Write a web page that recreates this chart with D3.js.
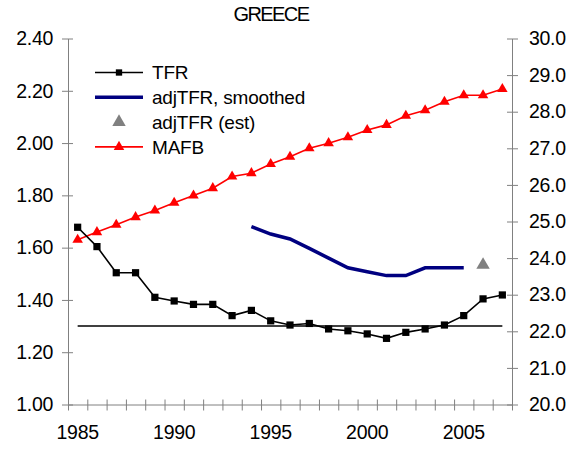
<!DOCTYPE html>
<html>
<head>
<meta charset="utf-8">
<script src="https://cdn.jsdelivr.net/npm/d3@7"></script>
<style>
  body { margin: 0; background: #fff; }
  svg { display: block; font-family: "Liberation Sans", Arial, sans-serif; }
</style>
</head>
<body>
<div id="chart"></div>
<script>
'use strict';

var years = d3.range(1985, 2008);
var yearLabels = [1985, 1990, 1995, 2000, 2005];

var tfr = [1.678, 1.604, 1.504, 1.504, 1.41, 1.396, 1.383, 1.383, 1.34, 1.36, 1.32, 1.304,
           1.31, 1.289, 1.282, 1.27, 1.253, 1.276, 1.289, 1.304, 1.34, 1.404, 1.419];

var adjYears = d3.range(1994, 2006);
var adjTfr = [1.68, 1.652, 1.633, 1.597, 1.56, 1.523, 1.508, 1.493, 1.493, 1.523, 1.523, 1.523];

var estYears = [2006];
var estTfr = [1.534];

var mafb = [24.5, 24.71, 24.91, 25.12, 25.3, 25.51, 25.71, 25.91, 26.23, 26.32, 26.57, 26.77,
            27.0, 27.14, 27.3, 27.5, 27.64, 27.89, 28.04, 28.27, 28.45, 28.45, 28.62];

var refLevel = 1.30;

var leftTicks = [1.0, 1.2, 1.4, 1.6, 1.8, 2.0, 2.2, 2.4];
var rightTicks = d3.range(20, 31, 1);

var width = 585, height = 449;
var margin = {top: 38.5, right: 73, bottom: 44.5, left: 68},
    plotW = width - margin.left - margin.right,
    plotH = height - margin.top - margin.bottom;

var svg = d3.select('#chart').append('svg')
  .attr('width', width)
  .attr('height', height);

var x = d3.scaleBand().domain(years).range([margin.left, margin.left + plotW]).padding(0);
var xEdge = d3.scaleLinear().domain([0, years.length]).range([margin.left, margin.left + plotW]);
var yL = d3.scaleLinear().domain([1.0, 2.4]).range([margin.top + plotH, margin.top]);
var yR = d3.scaleLinear().domain([20, 30]).range([margin.top + plotH, margin.top]);

function cx(yr) { return x(yr) + x.bandwidth() / 2; }

var axisColor = '#808080';

// title
svg.append('text')
  .attr('x', 271).attr('y', 20.5)
  .attr('text-anchor', 'middle')
  .attr('font-size', 20)
  .attr('letter-spacing', '-1.6px')
  .text('GREECE');

// left axis
var leftAxis = svg.append('g')
  .attr('transform', 'translate(' + margin.left + ',0)')
  .call(d3.axisLeft(yL).tickValues(leftTicks).tickFormat(d3.format('.2f')).tickSizeOuter(0).tickPadding(9));
leftAxis.selectAll('.tick line').attr('x1', 5).attr('x2', -6);

// right axis
var rightAxis = svg.append('g')
  .attr('transform', 'translate(' + (margin.left + plotW) + ',0)')
  .call(d3.axisRight(yR).tickValues(rightTicks).tickFormat(d3.format('.1f')).tickSizeOuter(0).tickPadding(11));
rightAxis.selectAll('.tick line').attr('x1', -5).attr('x2', 6);

// bottom axis: ticks between categories, labels centred
var bottomTicks = svg.append('g')
  .attr('transform', 'translate(0,' + (margin.top + plotH) + ')')
  .call(d3.axisBottom(xEdge).tickValues(d3.range(0, years.length + 1)).tickFormat('').tickSizeOuter(0));
bottomTicks.selectAll('.tick line').attr('y1', -5).attr('y2', 6);

var bottomLabels = svg.append('g')
  .attr('transform', 'translate(0,' + (margin.top + plotH) + ')')
  .call(d3.axisBottom(x).tickValues(yearLabels).tickSize(0).tickPadding(21));
bottomLabels.select('.domain').remove();

svg.selectAll('.domain, .tick line').attr('stroke', axisColor);
svg.selectAll('.tick text')
  .attr('font-size', 19.5)
  .attr('letter-spacing', '-0.3px')
  .attr('font-family', '"Liberation Sans", Arial, sans-serif')
  .attr('fill', '#000');

// reference line
svg.append('line')
  .attr('x1', cx(years[0])).attr('x2', cx(years[years.length - 1]))
  .attr('y1', yL(refLevel)).attr('y2', yL(refLevel))
  .attr('stroke', '#000').attr('stroke-width', 1.6);

// MAFB (right axis)
var mafbLine = d3.line().x(function (d, i) { return cx(years[i]); }).y(function (d) { return yR(d); });
svg.append('path').datum(mafb)
  .attr('d', mafbLine)
  .attr('fill', 'none').attr('stroke', '#ff0000').attr('stroke-width', 1.6);
svg.selectAll('.mafb-pt').data(mafb).enter().append('path')
  .attr('class', 'mafb-pt')
  .attr('d', d3.symbol().type(d3.symbolTriangle).size(48))
  .attr('transform', function (d, i) { return 'translate(' + cx(years[i]) + ',' + yR(d) + ')'; })
  .attr('fill', '#ff0000');

// adjTFR smoothed
var adjLine = d3.line().x(function (d, i) { return cx(adjYears[i]); }).y(function (d) { return yL(d); });
svg.append('path').datum(adjTfr)
  .attr('d', adjLine)
  .attr('fill', 'none').attr('stroke', '#000080').attr('stroke-width', 3.5);

// adjTFR (est)
svg.selectAll('.est-pt').data(estTfr).enter().append('path')
  .attr('class', 'est-pt')
  .attr('d', d3.symbol().type(d3.symbolTriangle).size(78))
  .attr('transform', function (d, i) { return 'translate(' + cx(estYears[i]) + ',' + yL(d) + ')'; })
  .attr('fill', '#808080');

// TFR
var tfrLine = d3.line().x(function (d, i) { return cx(years[i]); }).y(function (d) { return yL(d); });
svg.append('path').datum(tfr)
  .attr('d', tfrLine)
  .attr('fill', 'none').attr('stroke', '#000').attr('stroke-width', 1.6);
svg.selectAll('.tfr-pt').data(tfr).enter().append('path')
  .attr('class', 'tfr-pt')
  .attr('d', d3.symbol().type(d3.symbolSquare).size(52))
  .attr('transform', function (d, i) { return 'translate(' + cx(years[i]) + ',' + yL(d) + ')'; })
  .attr('fill', '#000');

// legend
var legendItems = [
  {label: 'TFR', color: '#000', line: 1.6, symbol: d3.symbolSquare, size: 40},
  {label: 'adjTFR, smoothed', color: '#000080', line: 3.5, symbol: null},
  {label: 'adjTFR (est)', color: '#808080', line: 0, symbol: d3.symbolTriangle, size: 78},
  {label: 'MAFB', color: '#ff0000', line: 1.6, symbol: d3.symbolTriangle, size: 48}
];
var legend = svg.append('g').attr('transform', 'translate(95,72.5)');
var row = legend.selectAll('g').data(legendItems).enter().append('g')
  .attr('transform', function (d, i) { return 'translate(0,' + (i * 24.8) + ')'; });
row.filter(function (d) { return d.line > 0; }).append('line')
  .attr('x1', 0).attr('x2', 48)
  .attr('stroke', function (d) { return d.color; })
  .attr('stroke-width', function (d) { return d.line; });
row.filter(function (d) { return d.symbol; }).append('path')
  .attr('d', function (d) { return d3.symbol().type(d.symbol).size(d.size)(); })
  .attr('transform', 'translate(24,0)')
  .attr('fill', function (d) { return d.color; });
row.append('text')
  .attr('x', 57).attr('dy', '0.35em')
  .attr('font-size', 19)
  .attr('letter-spacing', '-0.2px')
  .text(function (d) { return d.label; });
</script>
</body>
</html>
